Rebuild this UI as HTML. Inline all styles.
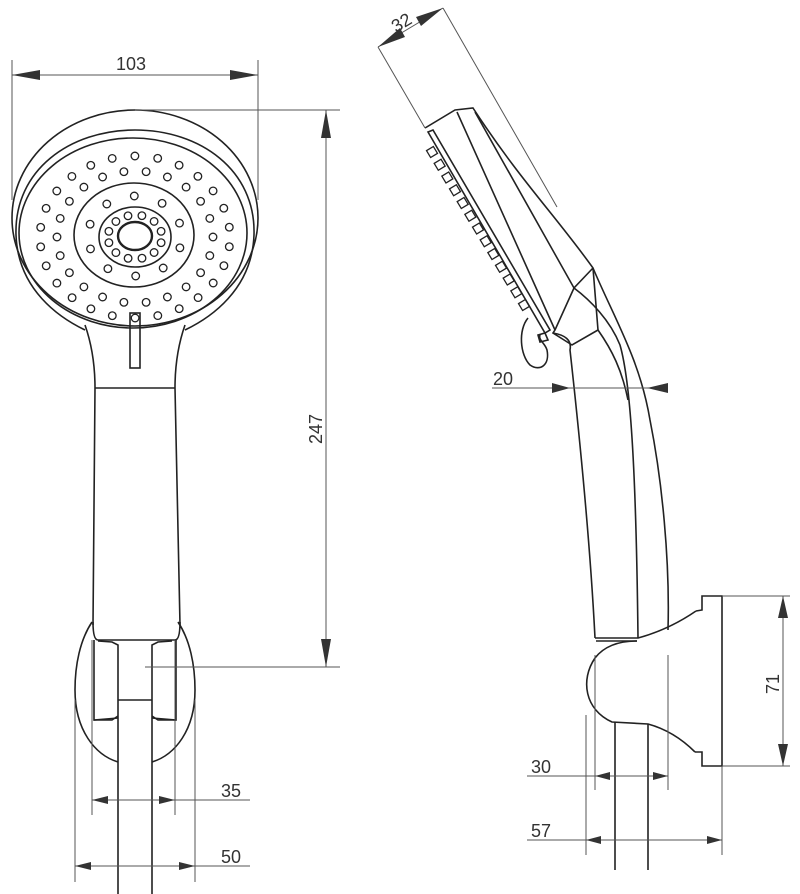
<!DOCTYPE html>
<html><head><meta charset="utf-8"><style>
html,body{margin:0;padding:0;background:#fff}
svg{display:block}
text{font-family:"Liberation Sans",sans-serif;font-size:18px;fill:#333}
</style></head><body>
<svg id="s" width="800" height="894" viewBox="0 0 800 894" xmlns="http://www.w3.org/2000/svg">
<g fill="none" stroke="#222" stroke-width="1.6">
<!-- FRONT VIEW head -->
<ellipse cx="135" cy="218" rx="123" ry="108"/>
<path d="M85 330 C60 318 18 290 16 235 C14 170 70 130 135 130 C200 130 256 170 254 235 C252 290 210 318 185 330"/>
<ellipse cx="133" cy="233" rx="114" ry="95"/>
<ellipse cx="134" cy="235" rx="60" ry="52"/>
<ellipse cx="135" cy="237" rx="36" ry="30"/>
<ellipse cx="135" cy="236" rx="17" ry="14" stroke-width="2.4"/>
<g id="dots" stroke-width="1.3"></g>
<rect x="130" y="313" width="10" height="55"/>
<!-- neck & handle -->
<path d="M85 325 C92 345 95 365 95 388 L93 625"/>
<path d="M185 325 C178 345 175 365 175 388 L180 625"/>
<line x1="95" y1="388" x2="175" y2="388"/>
<!-- holder (partially hidden ellipse) -->
<path d="M92 622 C80 640 75 665 75 690 C75 730 95 755 118 762"/>
<path d="M178 622 C190 640 195 665 195 690 C195 730 175 755 152 762"/>
<path d="M93 622 Q93 640 98 640 L175 640 Q180 640 180 622"/>
<path d="M94 640 L94 720 L118 718"/>
<path d="M176 640 L176 720 L152 718"/>
<path d="M98 641 L112 642 L118 645 L118 700"/>
<path d="M172 641 L158 642 L152 645 L152 700"/>
<path d="M94 720 L112 720 L118 716"/>
<path d="M176 720 L158 720 L152 716"/>
<line x1="118" y1="700" x2="152" y2="700"/>
<line x1="118" y1="700" x2="118" y2="894"/>
<line x1="152" y1="700" x2="152" y2="894"/>

<!-- SIDE VIEW head -->
<path d="M425 128 L455 110 L473 108 C520 180 555 215 593 268 C615 320 640 360 650 420 C662 480 670 560 668 630"/>
<path d="M428 132 L545 333 L550 330 L433 130 Z"/>
<line x1="457" y1="112" x2="555" y2="330"/>
<line x1="475" y1="112" x2="574" y2="288"/>
<path d="M593 268 L574 288 L555 330 L553 333 L572 345 L598 330 L593 268"/>
<path d="M574 288 C590 300 610 320 620 345 C630 380 636 460 638 638"/>
<path d="M598 330 C612 350 622 370 628 400"/>
<g id="teeth" stroke-width="1.3"></g>
<!-- hook -->
<path d="M528 318 C518 330 520 355 530 365 C540 372 550 365 547 350 C545 343 538 340 540 335"/>
<path d="M538 335 L545 333 L548 340 L540 342 Z"/>
<!-- handle front -->
<path d="M553 333 C565 335 572 340 570 350 C580 440 590 540 595 638"/>
<path d="M595 638 L638 638 C660 632 680 622 696 611"/>
<path d="M596 641 L637 641"/>
<!-- wall bracket -->
<path d="M696 611 L702 610 L702 596 L722 596 L722 766 L702 766 L702 752 L695 752"/>
<path d="M637 641 C620 641 605 645 595 658 C580 680 585 710 612 722 L648 724 C670 730 685 742 695 752"/>
<line x1="615" y1="722" x2="615" y2="870"/>
<line x1="648" y1="724" x2="648" y2="870"/>
</g>

<g stroke="#555" stroke-width="1" fill="none">
<line x1="12" y1="60" x2="12" y2="200"/>
<line x1="258" y1="60" x2="258" y2="200"/>
<line x1="12" y1="75" x2="258" y2="75"/>
<line x1="135" y1="110" x2="340" y2="110"/>
<line x1="145" y1="667" x2="340" y2="667"/>
<line x1="326" y1="110" x2="326" y2="667"/>
<line x1="92" y1="640" x2="92" y2="815"/>
<line x1="175" y1="640" x2="175" y2="815"/>
<line x1="75" y1="700" x2="75" y2="882"/>
<line x1="195" y1="700" x2="195" y2="882"/>
<line x1="92" y1="800" x2="250" y2="800"/>
<line x1="75" y1="866" x2="250" y2="866"/>
<line x1="378" y1="47" x2="443" y2="8"/>
<line x1="378" y1="47" x2="425" y2="128"/>
<line x1="443" y1="8" x2="557" y2="207"/>
<line x1="492" y1="388" x2="668" y2="388"/>
<line x1="722" y1="596" x2="790" y2="596"/>
<line x1="722" y1="766" x2="790" y2="766"/>
<line x1="783" y1="596" x2="783" y2="766"/>
<line x1="595" y1="655" x2="595" y2="790"/>
<line x1="668" y1="655" x2="668" y2="790"/>
<line x1="586" y1="715" x2="586" y2="855"/>
<line x1="722" y1="766" x2="722" y2="855"/>
<line x1="527" y1="776" x2="668" y2="776"/>
<line x1="527" y1="840" x2="722" y2="840"/>
</g>
<g fill="#333">
<polygon points="12,75 40,70 40,80"/>
<polygon points="258,75 230,70 230,80"/>
<polygon points="326,110 321,138 331,138"/>
<polygon points="326,667 321,639 331,639"/>
<polygon points="92,800 108,796 108,804"/>
<polygon points="175,800 159,796 159,804"/>
<polygon points="75,866 91,862 91,870"/>
<polygon points="195,866 179,862 179,870"/>
<polygon points="378,47 400,28 405,37"/>
<polygon points="443,8 416,17 421,26"/>
<polygon points="570,388 552,383 552,393"/>
<polygon points="647,388 668,383 668,393"/>
<polygon points="783,596 778,618 788,618"/>
<polygon points="783,766 778,744 788,744"/>
<polygon points="595,776 610,772 610,780"/>
<polygon points="668,776 653,772 653,780"/>
<polygon points="586,840 601,836 601,844"/>
<polygon points="722,840 707,836 707,844"/>
</g>
<text x="116" y="70">103</text>
<text x="0" y="0" transform="translate(322,444) rotate(-90)">247</text>
<text x="221" y="797">35</text>
<text x="221" y="863">50</text>
<text x="0" y="0" transform="translate(396,33) rotate(-31)">32</text>
<text x="493" y="385">20</text>
<text x="531" y="773">30</text>
<text x="531" y="837">57</text>
<text x="0" y="0" transform="translate(779,694) rotate(-90)">71</text>
</svg>
<script>
var NS="http://www.w3.org/2000/svg",g=document.getElementById("dots");
function ring(cx,cy,rx,ry,n,off){for(var i=0;i<n;i++){var a=off+i*2*Math.PI/n;var c=document.createElementNS(NS,"circle");c.setAttribute("cx",(cx+rx*Math.cos(a)).toFixed(1));c.setAttribute("cy",(cy+ry*Math.sin(a)).toFixed(1));c.setAttribute("r","3.8");g.appendChild(c);}}
ring(135,237,95,81,26,0.12);ring(135,237,78,66,22,0);ring(135,236,47,40,10,0.3);ring(135,237,27,22,12,0.26);
var t=document.getElementById("teeth");
for(var k=0;k<13;k++){var f=k/12;var x=432+f*(524-432),y=152+f*(305-152);var r=document.createElementNS(NS,"rect");r.setAttribute("x",-4);r.setAttribute("y",-4);r.setAttribute("width",8);r.setAttribute("height",8);r.setAttribute("transform","translate("+x+","+y+") rotate(-31)");t.appendChild(r);}
</script>
</body></html>
